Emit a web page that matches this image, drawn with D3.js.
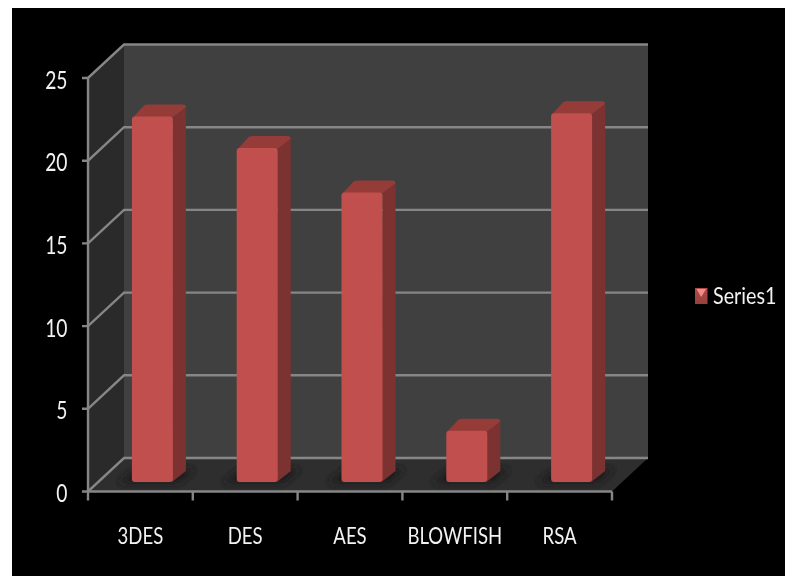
<!DOCTYPE html>
<html><head><meta charset="utf-8">
<style>html,body{margin:0;padding:0;background:#fff}svg{display:block}text{font-family:Lato,"Open Sans",sans-serif;fill:#f2f2f2}</style>
<script src="https://cdnjs.cloudflare.com/ajax/libs/d3/7.8.5/d3.min.js"></script>
</head><body><script>
const categories = ["3DES","DES","AES","BLOWFISH","RSA"];
const seriesValues = [22.1,20.2,17.5,3.1,22.3];
const yTicks = [0,5,10,15,20,25];
const seriesName = "Series1";

const W=785,H=576;
const svg=d3.select("body").append("svg").attr("width",W).attr("height",H);
const defs=svg.append("defs");
const soft=defs.append("filter").attr("id","soft").attr("x","-5%").attr("y","-5%").attr("width","110%").attr("height","110%");
soft.append("feGaussianBlur").attr("stdDeviation",0.5);
const softT=defs.append("filter").attr("id","softT").attr("x","-10%").attr("y","-20%").attr("width","120%").attr("height","140%");
softT.append("feGaussianBlur").attr("stdDeviation",0.4);
const sh=defs.append("filter").attr("id","shadow").attr("x","-40%").attr("y","-100%").attr("width","180%").attr("height","300%");
sh.append("feGaussianBlur").attr("stdDeviation",3.5);
const lg=defs.append("linearGradient").attr("id","swatch").attr("x1",0).attr("x2",0).attr("y1",0).attr("y2",1);
lg.append("stop").attr("offset",0).attr("stop-color","#b04a47");
lg.append("stop").attr("offset",1).attr("stop-color","#96423f");

svg.append("rect").attr("x",12).attr("y",8).attr("width",W-12).attr("height",H-8).attr("fill","#000");

const x=d3.scaleBand().domain(categories).range([88,612]);
const y=d3.scaleLinear().domain([0,25]).range([491.5,78]);
const deepX=36,deepY=-33.5;
const barW=41,barInX=12,barInY=-9.5,barDX=13,barDY=-12;

const g=svg.append("g").attr("filter","url(#soft)");
const pts=a=>a.map(p=>p.join(",")).join(" ");
const x0=88,x1=612,y0=y(0),yT=y(25);

g.append("polygon").attr("points",pts([[x0+deepX,yT+deepY],[x1+deepX,yT+deepY],[x1+deepX,y0+deepY],[x0+deepX,y0+deepY]])).attr("fill","#404040");
g.append("polygon").attr("points",pts([[x0,yT],[x0+deepX,yT+deepY],[x0+deepX,y0+deepY],[x0,y0]])).attr("fill","#2a2a2a");
g.append("polygon").attr("points",pts([[x0,y0],[x1,y0],[x1+deepX,y0+deepY],[x0+deepX,y0+deepY]])).attr("fill","#2e2e2e");

const grid="#868686";
yTicks.forEach(v=>{
  g.append("polyline").attr("fill","none").attr("stroke",grid).attr("stroke-width",2.4)
   .attr("points",pts([[x0-6,y(v)],[x0,y(v)],[x0+deepX,y(v)+deepY],[x1+deepX,y(v)+deepY]]));
});
g.append("line").attr("x1",x0).attr("x2",x0).attr("y1",yT).attr("y2",y0).attr("stroke",grid).attr("stroke-width",2.4);
g.append("line").attr("x1",x0).attr("x2",x1).attr("y1",y0).attr("y2",y0).attr("stroke",grid).attr("stroke-width",2.4);
categories.concat(["__end"]).forEach((c,i)=>{
  const px=88+i*x.step();
  g.append("line").attr("x1",px).attr("x2",px).attr("y1",y0).attr("y2",y0+9).attr("stroke",grid).attr("stroke-width",2.4);
});

const bars=g.selectAll("g.bar").data(categories.map((c,i)=>({c,v:seriesValues[i]}))).join("g").attr("class","bar");
bars.each(function(d){
  const b=d3.select(this);
  const L=x(d.c)+x.bandwidth()/2-barW/2+barInX, R=L+barW;
  const B=y(0)+barInY, T=y(d.v)+barInY;
  g.insert("polygon","g.bar").attr("points",pts([[L-14,B+1],[R+6,B+1],[R+22,B-13],[L+4,B-13]])).attr("fill","#1d1d1d").attr("filter","url(#shadow)");
  b.append("path").attr("d",`M${L+1},${T+1}L${L+barDX-1},${T+barDY+1}Q${L+barDX+1},${T+barDY} ${L+barDX+3},${T+barDY}L${R+barDX-3},${T+barDY}Q${R+barDX},${T+barDY} ${R+barDX},${T+barDY+3}L${R},${T+1}Z`).attr("fill","#953b39");
  b.append("polygon").attr("points",pts([[R,T+1],[R+barDX,T+barDY+3],[R+barDX,B+barDY+1],[R-1,B]])).attr("fill","#7d3230");
  b.append("rect").attr("x",L).attr("y",T).attr("width",barW).attr("height",B-T).attr("rx",3).attr("fill","#c0504d");
});

const label=(sel,px,py,sx,anchor,size,txt)=>sel.append("text")
  .attr("transform",`translate(${px},${py}) scale(${sx},1)`).attr("text-anchor",anchor)
  .attr("font-size",size).attr("filter","url(#softT)").text(txt);
yTicks.forEach(v=>label(svg,67.5,y(v)+10.5,0.77,"end",25,v));
categories.forEach(c=>label(svg,x(c)+x.bandwidth()/2,544,0.79,"middle",23.5,c));

const leg=svg.append("g").attr("filter","url(#soft)");
leg.append("rect").attr("x",695).attr("y",288).attr("width",12.5).attr("height",16).attr("fill","url(#swatch)");
leg.append("polygon").attr("points",pts([[696.5,289],[706,289],[701.2,297]])).attr("fill","#f28e8a");
label(svg,713,304,0.84,"start",23.5,seriesName);
</script></body></html>
